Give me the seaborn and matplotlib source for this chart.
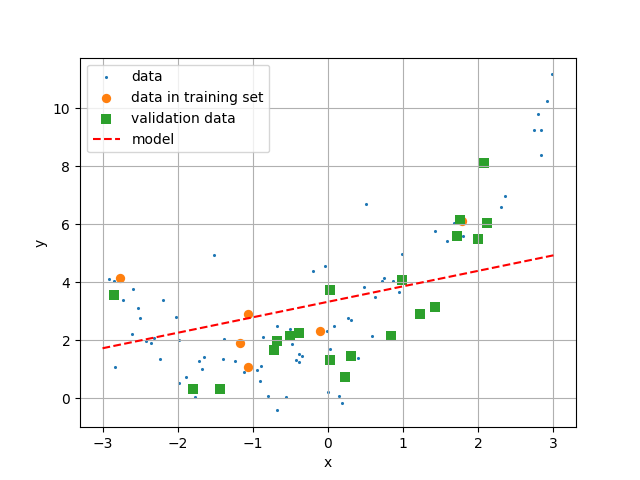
import numpy as np
import matplotlib
matplotlib.use("Agg")
import matplotlib.pyplot as plt
import seaborn as sns

# all data points
data_x = [-2.92, -2.85, -2.60, -2.73, -2.20, -2.53, -2.50, -2.02, -2.61, -2.42, -2.36, -2.32,
          -1.98, -2.84, -2.24, -1.52, -1.98, -1.89, -1.77, -1.72, -1.65, -1.68, -1.38, -1.40,
          -1.24, -1.12, -0.94, -0.89, -0.86, -0.68, -0.90, -0.80, -0.68, -0.56, -0.50, -0.48,
          -0.39, -0.34, -0.43, -0.39, -0.20, -0.04, -0.01, 0.08, 0.03, 0.00,
          2.98, 2.91, 2.79, 2.74, 2.84, 2.83, 2.35, 2.30, 0.50, 1.43, 1.59, 1.67, 1.80, 0.98,
          0.74, 0.72, 0.87, 0.48, 0.95, 0.62, 0.27, 0.30, 0.59, 0.40, 0.15, 0.18]
data_y = [4.10, 4.03, 3.76, 3.40, 3.38, 3.10, 2.76, 2.79, 2.21, 1.97, 1.90, 2.07,
          2.00, 1.10, 1.37, 4.93, 0.52, 0.75, 0.06, 1.30, 1.44, 1.02, 2.06, 1.37,
          1.30, 0.92, 0.99, 1.13, 2.13, 2.48, 0.59, 0.09, -0.41, 0.06, 2.40, 1.86,
          1.52, 1.45, 1.33, 1.24, 4.38, 4.55, 2.34, 2.48, 1.71, 0.24,
          11.16, 10.23, 9.79, 9.26, 9.26, 8.37, 6.96, 6.58, 6.71, 5.78, 5.44, 6.06, 5.61, 4.99,
          4.16, 4.03, 4.06, 3.85, 3.68, 3.51, 2.78, 2.72, 2.16, 1.40, 0.09, -0.15]

train_x = [-2.77, -1.17, -1.06, -1.07, -0.11, 1.78]
train_y = [4.15, 1.90, 2.92, 1.07, 2.34, 6.12]

val_x = [-2.85, -1.79, -1.44, -0.72, -0.68, -0.50, -0.39, 0.03, 0.03, 2.08, 1.76, 2.11,
         1.72, 2.00, 0.98, 1.43, 1.22, 0.84, 0.31, 0.22]
val_y = [3.55, 0.34, 0.34, 1.66, 1.97, 2.15, 2.27, 3.75, 1.31, 8.10, 6.14, 6.06,
         5.61, 5.50, 4.07, 3.16, 2.92, 2.16, 1.47, 0.75]

model_x = [-3.0, 3.0]
model_y = [1.73, 4.93]

plt.rcParams.update(matplotlib.rcParamsDefault)
fig, ax = plt.subplots(figsize=(6.4, 4.8), dpi=100)

sns.scatterplot(x=data_x, y=data_y, ax=ax, s=5, color="#1f77b4", linewidth=0, label="data")
sns.scatterplot(x=train_x, y=train_y, ax=ax, s=45, color="#ff7f0e", linewidth=0,
                label="data in training set")
sns.scatterplot(x=val_x, y=val_y, ax=ax, s=45, marker="s", color="#2ca02c", linewidth=0,
                label="validation data")
sns.lineplot(x=model_x, y=model_y, ax=ax, color="red", linestyle="--", label="model")

ax.set_xlabel("x")
ax.set_ylabel("y")
ax.grid(True)
ax.legend(loc="upper left")

fig.savefig("out.png", dpi=100)
